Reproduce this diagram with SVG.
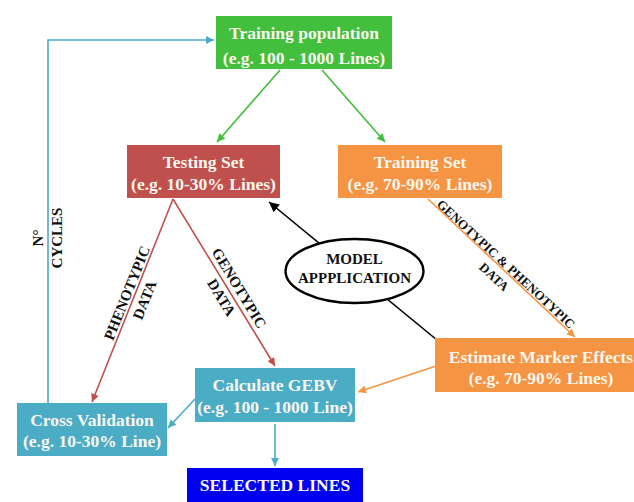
<svg xmlns="http://www.w3.org/2000/svg" width="634" height="502" viewBox="0 0 634 502">
<style>
  .bt { font-family: "Liberation Serif", "Times New Roman", serif; font-weight: bold; font-size: 17.5px; fill: #fbf7ef; text-anchor: middle; }
  .lt { font-family: "Liberation Serif", "Times New Roman", serif; font-weight: bold; font-size: 15px; fill: #111; text-anchor: middle; }
  .st { font-family: "Liberation Serif", "Times New Roman", serif; font-weight: bold; font-size: 13px; fill: #111; text-anchor: middle; }
  .c { fill: none; stroke-width: 1.6; }
</style>
<defs>
  <marker id="ag" viewBox="0 0 10 10" refX="10" refY="5" markerWidth="9" markerHeight="8" markerUnits="userSpaceOnUse" orient="auto"><path d="M0,0 L10,5 L0,10 z" fill="#41bf3d"/></marker>
  <marker id="ar" viewBox="0 0 10 10" refX="10" refY="5" markerWidth="9" markerHeight="8" markerUnits="userSpaceOnUse" orient="auto"><path d="M0,0 L10,5 L0,10 z" fill="#c0504d"/></marker>
  <marker id="ao" viewBox="0 0 10 10" refX="10" refY="5" markerWidth="9" markerHeight="8" markerUnits="userSpaceOnUse" orient="auto"><path d="M0,0 L10,5 L0,10 z" fill="#f59443"/></marker>
  <marker id="ab" viewBox="0 0 10 10" refX="10" refY="5" markerWidth="9" markerHeight="8" markerUnits="userSpaceOnUse" orient="auto"><path d="M0,0 L10,5 L0,10 z" fill="#4bacc6"/></marker>
  <marker id="ak" viewBox="0 0 10 10" refX="10" refY="5" markerWidth="11" markerHeight="10" markerUnits="userSpaceOnUse" orient="auto"><path d="M0,0 L10,5 L0,10 z" fill="#000"/></marker>
</defs>
<rect width="634" height="502" fill="#ffffff"/>

<g id="connectors">
  <line class="c" x1="280" y1="70" x2="217" y2="142" stroke="#41bf3d" marker-end="url(#ag)"/>
  <line class="c" x1="322" y1="70" x2="385" y2="142" stroke="#41bf3d" marker-end="url(#ag)"/>
  <line class="c" x1="173" y1="199" x2="275" y2="366" stroke="#c0504d" marker-end="url(#ar)"/>
  <line class="c" x1="173" y1="199" x2="92" y2="402" stroke="#c0504d" marker-end="url(#ar)"/>
  <line class="c" x1="428" y1="199" x2="575" y2="337" stroke="#f59443" marker-end="url(#ao)"/>
  <line class="c" x1="436" y1="366" x2="358" y2="392" stroke="#f59443" marker-end="url(#ao)"/>
  <line class="c" x1="437" y1="340" x2="269" y2="202" stroke="#000" stroke-width="2.2" marker-end="url(#ak)"/>
  <line class="c" x1="195" y1="399" x2="168" y2="428" stroke="#4bacc6" marker-end="url(#ab)"/>
  <line class="c" x1="275" y1="424" x2="275" y2="466" stroke="#4bacc6" marker-end="url(#ab)"/>
  <polyline class="c" points="48,403 48,40 214,40" stroke="#4bacc6" stroke-width="2.4" marker-end="url(#ab)"/>
  <g transform="translate(127,293) rotate(-68)">
    <text class="lt" x="0" y="5">PHENOTYPIC</text>
    <text class="lt" x="0" y="24">DATA</text>
  </g>
  <g transform="translate(239,288) rotate(58.8)">
    <text class="lt" x="0" y="5">GENOTYPIC</text>
    <text class="lt" x="-1" y="25">DATA</text>
  </g>
  <g transform="translate(506,264) rotate(42.8)">
    <text class="st" x="0" y="4.5">GENOTYPIC &amp; PHENOTYPIC</text>
    <text class="st" x="0" y="22">DATA</text>
  </g>
  <g transform="translate(38,238) rotate(-90)">
    <text class="lt" x="0" y="5">N°</text>
    <text class="lt" x="0" y="24">CYCLES</text>
  </g>
</g>

<g id="training-population">
  <rect x="216" y="16" width="176" height="53" fill="#41bf3d"/>
  <text class="bt" x="304" y="39">Training population</text>
  <text class="bt" x="304" y="64">(e.g. 100 - 1000 Lines)</text>
</g>
<g id="testing-set">
  <rect x="127" y="145" width="153" height="53" fill="#c0504d"/>
  <text class="bt" x="203.5" y="168">Testing Set</text>
  <text class="bt" x="203.5" y="190">(e.g. 10-30% Lines)</text>
</g>
<g id="training-set">
  <rect x="338" y="145" width="164" height="53" fill="#f59443"/>
  <text class="bt" x="420" y="168">Training Set</text>
  <text class="bt" x="420" y="190">(e.g. 70-90% Lines)</text>
</g>
<g id="model-application">
  <ellipse cx="354.5" cy="271" rx="69" ry="32" fill="#ffffff" stroke="#000" stroke-width="2.4"/>
  <text class="lt" x="354.5" y="264" style="fill:#111">MODEL</text>
  <text class="lt" x="354.5" y="283" style="fill:#111">APPPLICATION</text>
</g>
<g id="estimate-marker-effects">
  <rect x="435" y="338" width="212" height="54" fill="#f59443"/>
  <text class="bt" x="541" y="363">Estimate Marker Effects</text>
  <text class="bt" x="541" y="384">(e.g. 70-90% Lines)</text>
</g>
<g id="calculate-gebv">
  <rect x="195" y="368" width="160" height="54" fill="#4bacc6"/>
  <text class="bt" x="275" y="391">Calculate GEBV</text>
  <text class="bt" x="275" y="413">(e.g. 100 - 1000 Line)</text>
</g>
<g id="cross-validation">
  <rect x="17" y="403" width="150" height="53" fill="#4bacc6"/>
  <text class="bt" x="92" y="426">Cross Validation</text>
  <text class="bt" x="92" y="447">(e.g. 10-30% Line)</text>
</g>
<g id="selected-lines">
  <rect x="187" y="468" width="176" height="34" fill="#0000f0"/>
  <text class="bt" x="275" y="491">SELECTED LINES</text>
</g>
</svg>
